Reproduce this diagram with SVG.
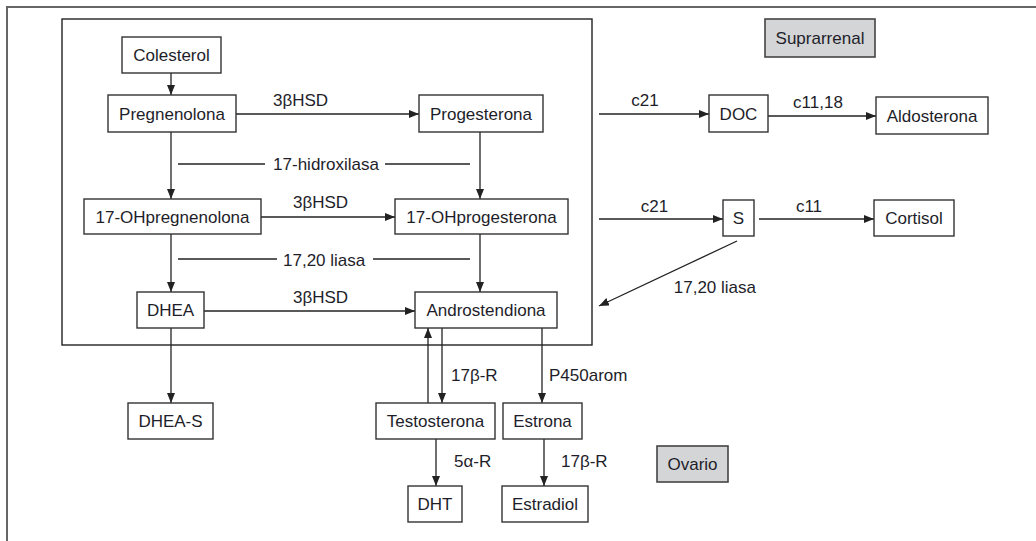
<svg xmlns="http://www.w3.org/2000/svg" width="1036" height="541" viewBox="0 0 1036 541">
<defs>
<marker id="ah" viewBox="0 0 10 8" refX="10" refY="4" markerWidth="10" markerHeight="8" markerUnits="userSpaceOnUse" orient="auto">
<path d="M0,0 L10,4 L0,8 Z" fill="#222"/>
</marker>
<style>
.box{fill:#fff;stroke:#333;stroke-width:1.4}
.grey{fill:#d4d5d7;stroke:#444;stroke-width:1.6}
.t{font-family:"Liberation Sans",Arial,sans-serif;font-size:17px;fill:#1e1e2a}
.c{text-anchor:middle}
.ln{fill:none;stroke:#222;stroke-width:1.3}
.arr{fill:none;stroke:#222;stroke-width:1.3;marker-end:url(#ah)}
</style>
</defs>
<rect width="1036" height="541" fill="#fff"/>
<path d="M7,541 V7 H1036" fill="none" stroke="#666" stroke-width="2"/>
<rect x="62" y="19" width="530" height="326" fill="none" stroke="#222" stroke-width="1.4"/>

<g id="connectors">
<line class="arr" x1="171" y1="73" x2="171" y2="95"/>
<line class="arr" x1="236" y1="114" x2="419" y2="114"/>
<line class="arr" x1="171" y1="132" x2="171" y2="199"/>
<line class="arr" x1="480" y1="132" x2="480" y2="199"/>
<line class="ln" x1="178" y1="164" x2="265" y2="164"/>
<line class="ln" x1="385" y1="164" x2="470" y2="164"/>
<line class="arr" x1="261" y1="217" x2="395" y2="217"/>
<line class="arr" x1="171" y1="234" x2="171" y2="292"/>
<line class="arr" x1="480" y1="234" x2="480" y2="292"/>
<line class="ln" x1="178" y1="259" x2="277" y2="259"/>
<line class="ln" x1="373" y1="259" x2="470" y2="259"/>
<line class="arr" x1="204" y1="311" x2="415" y2="311"/>
<line class="arr" x1="171" y1="328" x2="171" y2="403"/>
<line class="arr" x1="599" y1="114" x2="709" y2="114"/>
<line class="arr" x1="768" y1="116" x2="876" y2="116"/>
<line class="arr" x1="599" y1="219" x2="723" y2="219"/>
<line class="arr" x1="759" y1="219" x2="874" y2="219"/>
<line class="arr" x1="737" y1="241" x2="599" y2="306"/>
<line class="arr" x1="428" y1="403" x2="428" y2="328"/>
<line class="arr" x1="442" y1="328" x2="442" y2="403"/>
<line class="arr" x1="542" y1="328" x2="542" y2="403"/>
<line class="arr" x1="436" y1="439" x2="436" y2="486"/>
<line class="arr" x1="544" y1="439" x2="544" y2="486"/>
</g>

<g id="labels">
<text class="t c" x="300.5" y="106">3βHSD</text>
<text class="t c" x="326" y="170">17-hidroxilasa</text>
<text class="t" x="293" y="208">3βHSD</text>
<text class="t" x="283" y="266">17,20 liasa</text>
<text class="t" x="293" y="303">3βHSD</text>
<text class="t c" x="645" y="106">c21</text>
<text class="t c" x="818" y="108">c11,18</text>
<text class="t c" x="654.5" y="212">c21</text>
<text class="t c" x="809" y="212">c11</text>
<text class="t" x="756" y="293" text-anchor="end">17,20 liasa</text>
<text class="t" x="451" y="381">17β-R</text>
<text class="t" x="549" y="381">P450arom</text>
<text class="t" x="454" y="467">5α-R</text>
<text class="t" x="561" y="467">17β-R</text>
</g>

<g id="colesterol"><rect class="box" x="122" y="37" width="99" height="36"/><text class="t c" x="171.5" y="61">Colesterol</text></g>
<g id="pregnenolona"><rect class="box" x="108" y="95" width="128" height="37"/><text class="t c" x="172" y="119.5">Pregnenolona</text></g>
<g id="progesterona"><rect class="box" x="419" y="95" width="124" height="37"/><text class="t c" x="481" y="119.5">Progesterona</text></g>
<g id="ohpregnenolona"><rect class="box" x="84" y="199" width="177" height="35"/><text class="t c" x="172.5" y="222.5">17-OHpregnenolona</text></g>
<g id="ohprogesterona"><rect class="box" x="395" y="199" width="173" height="35"/><text class="t c" x="481.5" y="222.5">17-OHprogesterona</text></g>
<g id="dhea"><rect class="box" x="137" y="292" width="67" height="36"/><text class="t c" x="170.5" y="316">DHEA</text></g>
<g id="androstendiona"><rect class="box" x="415" y="292" width="142" height="36"/><text class="t c" x="486" y="316">Androstendiona</text></g>
<g id="dheas"><rect class="box" x="128" y="403" width="85" height="36"/><text class="t c" x="170.5" y="427">DHEA-S</text></g>
<g id="doc"><rect class="box" x="709" y="95" width="59" height="37"/><text class="t c" x="738.5" y="119.5">DOC</text></g>
<g id="aldosterona"><rect class="box" x="876" y="97" width="112" height="37"/><text class="t c" x="932" y="121.5">Aldosterona</text></g>
<g id="suprarrenal"><rect class="grey" x="765" y="19" width="110" height="38"/><text class="t c" x="820" y="44">Suprarrenal</text></g>
<g id="s"><rect class="box" x="723" y="200" width="31" height="36"/><text class="t c" x="738.5" y="224">S</text></g>
<g id="cortisol"><rect class="box" x="874" y="200" width="80" height="36"/><text class="t c" x="914" y="224">Cortisol</text></g>
<g id="testosterona"><rect class="box" x="376" y="403" width="119" height="36"/><text class="t c" x="435.5" y="427">Testosterona</text></g>
<g id="estrona"><rect class="box" x="503" y="403" width="79" height="36"/><text class="t c" x="542.5" y="427">Estrona</text></g>
<g id="dht"><rect class="box" x="408" y="486" width="54" height="36"/><text class="t c" x="435" y="510">DHT</text></g>
<g id="estradiol"><rect class="box" x="502" y="486" width="86" height="36"/><text class="t c" x="545" y="510">Estradiol</text></g>
<g id="ovario"><rect class="grey" x="657" y="446" width="71" height="36"/><text class="t c" x="692.5" y="470">Ovario</text></g>
</svg>
